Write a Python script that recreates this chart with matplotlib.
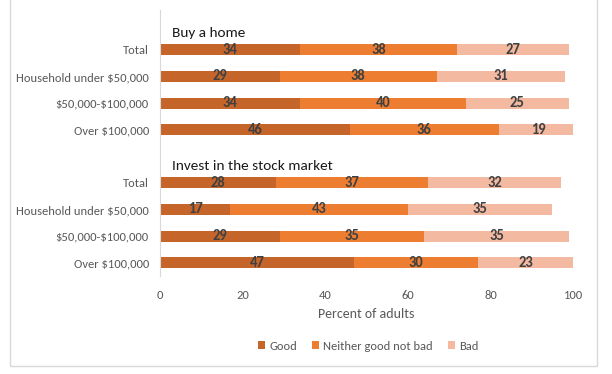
import matplotlib
matplotlib.use("Agg")
import matplotlib.pyplot as plt
from matplotlib.patches import Rectangle, Patch

plt.rcParams['font.family'] = ['Carlito', 'Lato', 'DejaVu Sans']
plt.rcParams['text.parse_math'] = False

groups = ["Buy a home", "Invest in the stock market"]
categories = ["Total", "Household under $50,000", "$50,000-$100,000", "Over $100,000"]
series = ["Good", "Neither good not bad", "Bad"]
home_good = [34, 29, 34, 46]
home_neither = [38, 38, 40, 36]
home_bad = [27, 31, 25, 19]
stock_good = [28, 17, 29, 47]
stock_neither = [37, 43, 35, 30]
stock_bad = [32, 35, 35, 23]
colors = ["#C5652A", "#ED7D31", "#F4B9A1"]
ticks = [0, 20, 40, 60, 80, 100]

fig = plt.figure(figsize=(6.12, 3.74), dpi=100)
fig.patches.append(Rectangle((10 / 612, 1 - 366 / 374), 587 / 612, 380 / 374,
                             transform=fig.transFigure, fill=False,
                             edgecolor="#D9D9D9", linewidth=1.0))
ax = fig.add_axes([160 / 612, 1 - 276 / 374, 413 / 612, 266 / 374])

group_data = [(home_good, home_neither, home_bad), (stock_good, stock_neither, stock_bad)]
ylabels_pos = []
ylabels_txt = []
for g, (gname, data) in enumerate(zip(groups, group_data)):
    base = g * 5
    ax.text(3, base + 0.35, gname, fontsize=11, color="#1a1a1a", va="center", ha="left")
    for i, cat in enumerate(categories):
        y = base + 1 + i
        ylabels_pos.append(y)
        ylabels_txt.append(cat)
        left = 0
        for s in range(3):
            v = data[s][i]
            ax.barh(y, v, left=left, height=0.41, color=colors[s], edgecolor="none")
            ax.text(left + v / 2, y, str(v), ha="center", va="center",
                    fontsize=10.5, fontweight="bold", color="#404040")
            left += v

ax.set_xlim(0, 100)
ax.set_ylim(9.5, -0.5)
ax.set_yticks(ylabels_pos)
ax.set_yticklabels(ylabels_txt, fontsize=9, color="#595959")
ax.set_xticks(ticks)
ax.set_xticklabels([str(t) for t in ticks], fontsize=9, color="#595959")
ax.tick_params(length=0, pad=8)
ax.tick_params(axis="x", pad=10)
for sp in ["top", "right", "bottom"]:
    ax.spines[sp].set_visible(False)
ax.spines["left"].set_color("#D9D9D9")
ax.set_xlabel("Percent of adults", fontsize=10, color="#595959", labelpad=5)

handles = [Patch(facecolor=c, edgecolor="none") for c in colors]
fig.legend(handles, series, loc="center", bbox_to_anchor=(368 / 612, 1 - 346 / 374),
           ncol=3, frameon=False, fontsize=9, handlelength=0.6, handleheight=0.6,
           handletextpad=0.3, columnspacing=1.2, labelcolor="#595959")

fig.savefig("out.png", dpi=100)
